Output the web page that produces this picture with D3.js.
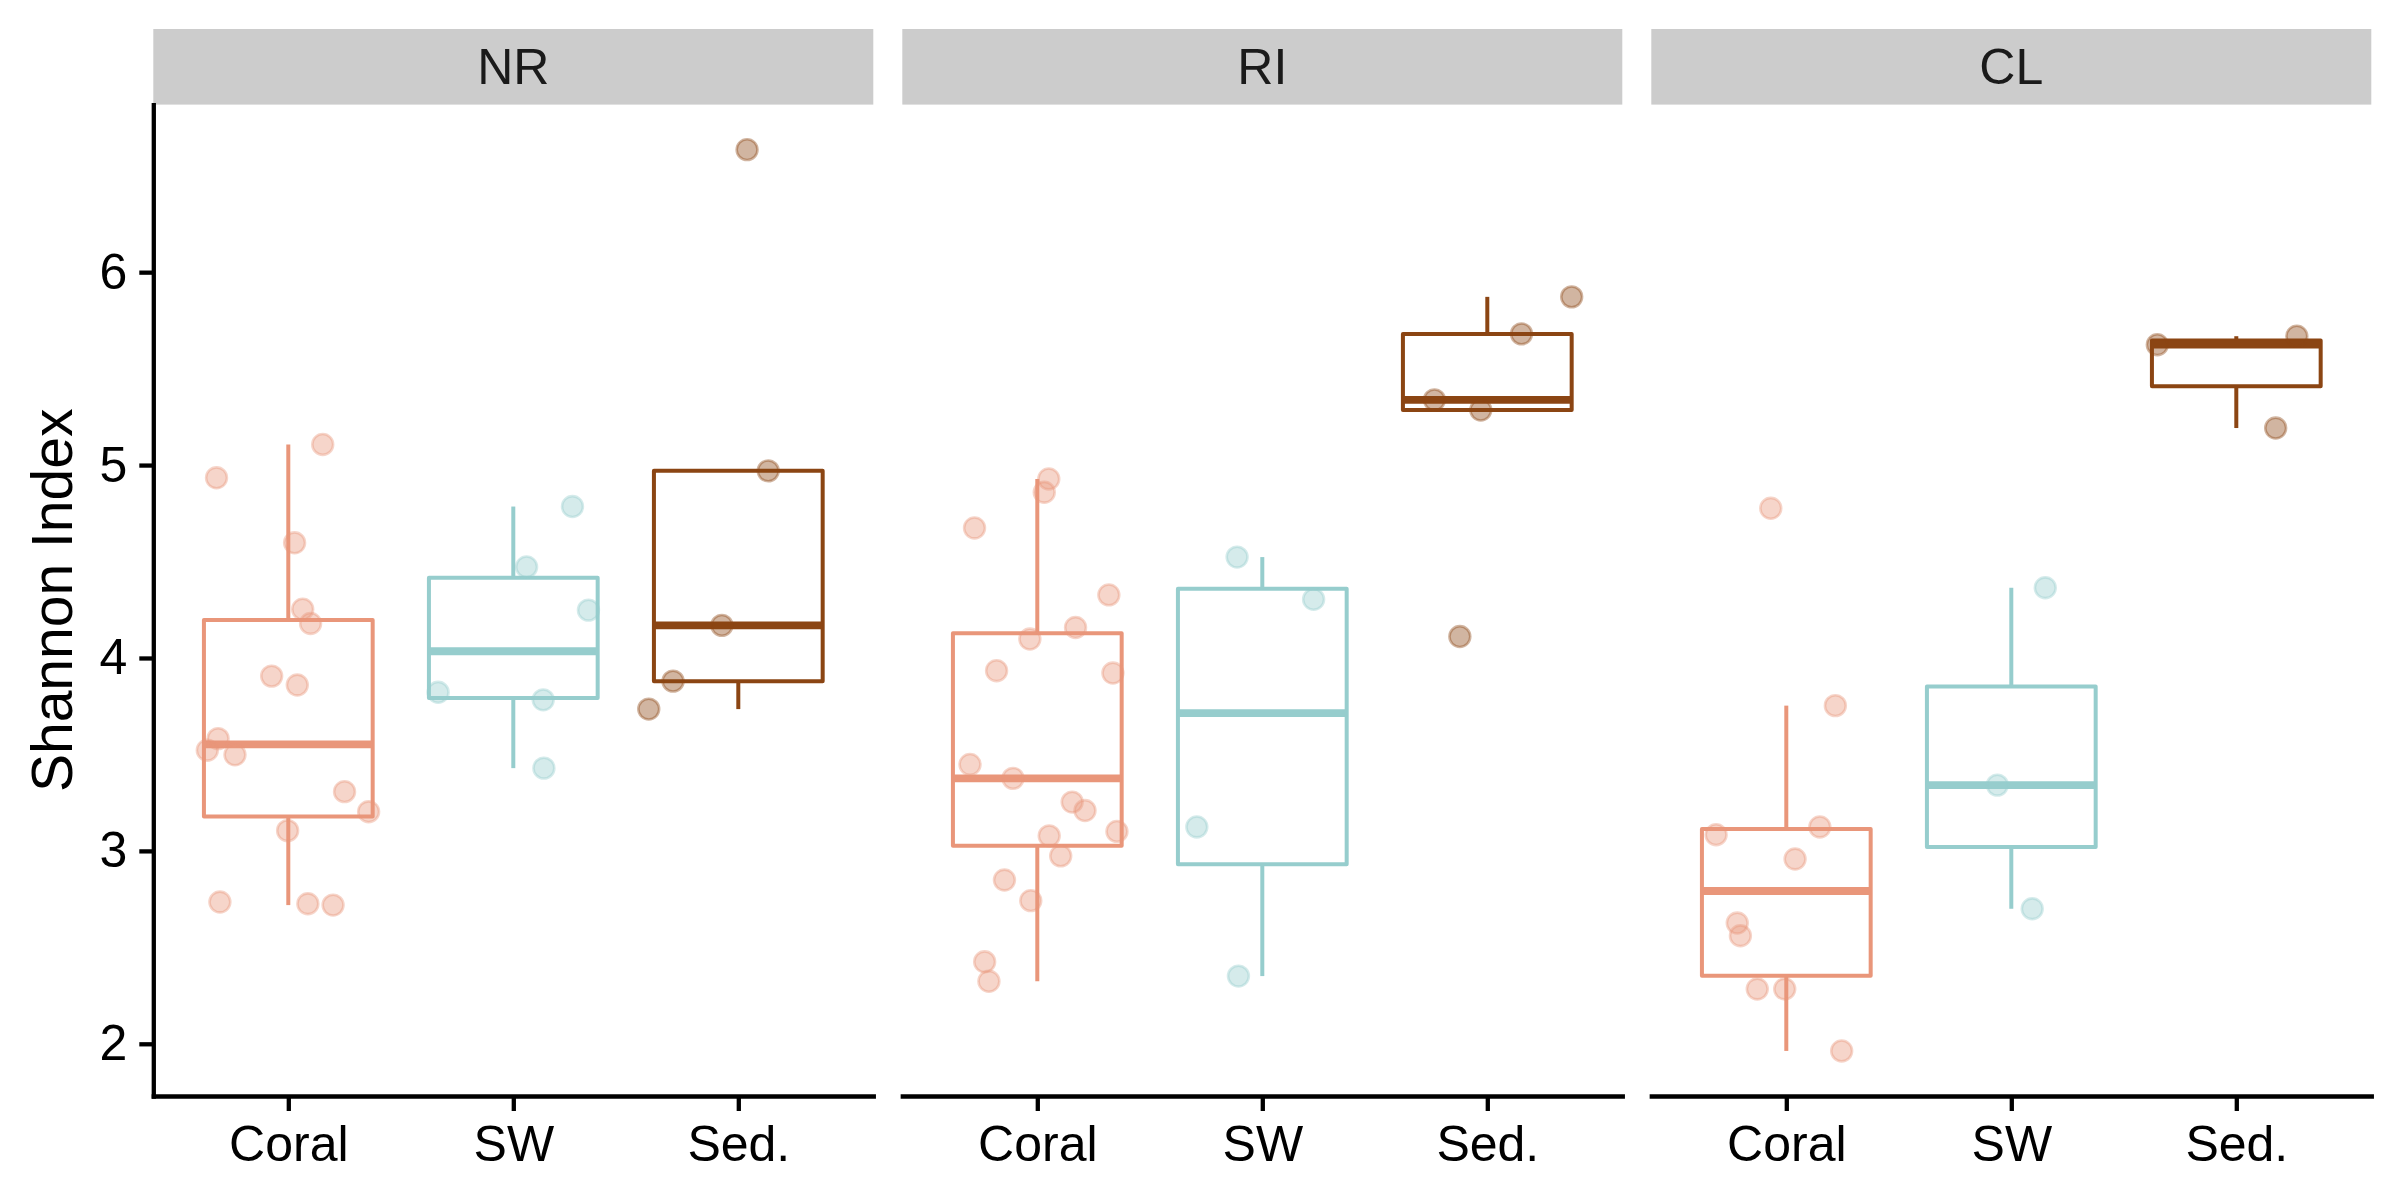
<!DOCTYPE html>
<html><head><meta charset="utf-8">
<script src="https://cdn.jsdelivr.net/npm/d3@7"></script>
<style>html,body{margin:0;padding:0;background:#fff;} svg{display:block;}</style>
</head><body>
<svg id="chart" width="2400" height="1200"></svg>
<script>
// ---------------- data ----------------
const sites = ["NR", "RI", "CL"];
const sampleTypes = ["Coral", "SW", "Sed."];
const yTicks = [2, 3, 4, 5, 6];
const yTitle = "Shannon Index";

// Shannon index per sample (site x sample type)
const nrCoral = [4.934, 5.107, 4.597, 4.253, 4.179, 3.906, 3.860, 3.582, 3.522, 3.498, 3.307, 3.203, 3.105, 2.735, 2.726, 2.719];
const nrSW    = [4.785, 4.472, 4.248, 3.822, 3.783, 3.429];
const nrSed   = [6.635, 4.970, 4.169, 3.880, 3.735];
const riCoral = [4.928, 4.859, 4.674, 4.327, 4.158, 4.098, 3.934, 3.922, 3.448, 3.376, 3.253, 3.209, 3.101, 3.078, 2.974, 2.849, 2.742, 2.425, 2.324];
const riSW    = [4.523, 4.304, 3.124, 2.351];
const riSed   = [5.872, 5.680, 5.338, 5.285, 4.111];
const clCoral = [4.776, 3.753, 3.124, 3.084, 2.958, 2.626, 2.560, 2.284, 2.284, 1.963];
const clSW    = [4.364, 3.341, 2.700];
const clSed   = [5.668, 5.624, 5.192];

// horizontal jitter of each point (fraction of category spacing)
const nrCoralJit = [-0.319, 0.153, 0.028, 0.064, 0.099, -0.074, 0.040, -0.312, -0.360, -0.237, 0.250, 0.357, -0.003, -0.304, 0.087, 0.199];
const nrSWJit    = [0.263, 0.059, 0.334, -0.334, 0.133, 0.136];
const nrSedJit   = [0.039, 0.133, -0.073, -0.290, -0.398];
const riCoralJit = [0.051, 0.031, -0.279, 0.318, 0.170, -0.033, -0.181, 0.336, -0.299, -0.108, 0.155, 0.212, 0.354, 0.053, 0.104, -0.146, -0.029, -0.234, -0.215];
const riSWJit    = [-0.112, 0.228, -0.291, -0.106];
const riSedJit   = [0.375, 0.152, -0.235, -0.029, -0.122];
const clCoralJit = [-0.069, 0.218, 0.149, -0.312, 0.039, -0.218, -0.204, -0.129, -0.007, 0.246];
const clSWJit    = [0.151, -0.062, 0.093];
const clSedJit   = [0.269, -0.351, 0.175];

const typeColors = ["#E9967A", "#96CDCD", "#8B4513"];

// ---------------- assemble ----------------
const siteValues = {
  NR: [nrCoral, nrSW, nrSed],
  RI: [riCoral, riSW, riSed],
  CL: [clCoral, clSW, clSed]
};
const siteJitter = {
  NR: [nrCoralJit, nrSWJit, nrSedJit],
  RI: [riCoralJit, riSWJit, riSedJit],
  CL: [clCoralJit, clSWJit, clSedJit]
};

// ---------------- layout ----------------
const W = 2400, H = 1200;
const marginLeft = 153.3, panelW = 720, panelGap = 29;
const stripTop = 29, stripH = 75.6;
const panelTop = stripTop + stripH, panelBottom = 1096;
const font = "'Liberation Sans', Arial, Helvetica, sans-serif";
const lineW = 4.3, boxLineW = 4.0, medianW = 7.8, ptR = 10.4, ptStroke = 2.6;

const svg = d3.select("#chart");
svg.append("rect").attr("width", W).attr("height", H).attr("fill", "#fff");

const allVals = sites.flatMap(s => siteValues[s].flat());
const [vmin, vmax] = d3.extent(allVals);
const pad = (vmax - vmin) * 0.05;
const y = d3.scaleLinear().domain([vmin - pad, vmax + pad]).range([panelBottom, panelTop]);

function boxStats(vals) {
  const s = vals.slice().sort(d3.ascending);
  const q1 = d3.quantileSorted(s, 0.25), med = d3.quantileSorted(s, 0.5), q3 = d3.quantileSorted(s, 0.75);
  const iqr = q3 - q1;
  const lo = d3.min(s.filter(v => v >= q1 - 1.5 * iqr));
  const hi = d3.max(s.filter(v => v <= q3 + 1.5 * iqr));
  return {q1, med, q3, lo, hi};
}

sites.forEach((site, si) => {
  const left = marginLeft + si * (panelW + panelGap);
  const g = svg.append("g").attr("transform", `translate(${left},0)`);
  const x = d3.scalePoint().domain(sampleTypes).range([0, panelW]).padding(0.6);
  const step = x.step();
  const halfBox = 0.375 * step;

  // strip
  g.append("rect").attr("x", 0).attr("y", stripTop).attr("width", panelW).attr("height", stripH)
    .attr("fill", "#CCCCCC");
  g.append("text").attr("x", panelW / 2).attr("y", stripTop + stripH / 2)
    .attr("text-anchor", "middle").attr("dominant-baseline", "central")
    .attr("font-family", font).attr("font-size", 50).attr("fill", "#1a1a1a").text(site);

  // boxplots
  sampleTypes.forEach((t, ti) => {
    const vals = siteValues[site][ti];
    const st = boxStats(vals);
    const cx = x(t);
    const col = typeColors[ti];
    const bg = g.append("g");
    bg.append("line").attr("x1", cx).attr("x2", cx).attr("y1", y(st.q3)).attr("y2", y(st.hi))
      .attr("stroke", col).attr("stroke-width", boxLineW);
    bg.append("line").attr("x1", cx).attr("x2", cx).attr("y1", y(st.q1)).attr("y2", y(st.lo))
      .attr("stroke", col).attr("stroke-width", boxLineW);
    bg.append("rect").attr("x", cx - halfBox).attr("y", y(st.q3))
      .attr("width", 2 * halfBox).attr("height", y(st.q1) - y(st.q3))
      .attr("fill", "#fff").attr("stroke", col).attr("stroke-width", boxLineW)
      .attr("stroke-linejoin", "round");
    bg.append("line").attr("x1", cx - halfBox).attr("x2", cx + halfBox)
      .attr("y1", y(st.med)).attr("y2", y(st.med))
      .attr("stroke", col).attr("stroke-width", medianW);
  });

  // jittered points
  sampleTypes.forEach((t, ti) => {
    const vals = siteValues[site][ti];
    const jit = siteJitter[site][ti];
    const col = typeColors[ti];
    g.append("g").selectAll("circle").data(vals).join("circle")
      .attr("cx", (d, i) => x(t) + jit[i] * step)
      .attr("cy", d => y(d))
      .attr("r", ptR)
      .attr("fill", col).attr("fill-opacity", 0.4)
      .attr("stroke", col).attr("stroke-opacity", 0.4).attr("stroke-width", ptStroke);
  });

  // x axis
  const xa = g.append("g").attr("transform", `translate(0,${panelBottom})`)
    .call(d3.axisBottom(x).tickSize(15).tickSizeOuter(0).tickPadding(14.5));
  xa.select(".domain").attr("stroke", "#000").attr("stroke-width", lineW).attr("stroke-linecap", "square");
  xa.selectAll(".tick line").attr("stroke", "#000").attr("stroke-width", lineW);
  xa.selectAll(".tick text").attr("font-family", font).attr("font-size", 50).attr("fill", "#000");

  // y axis (first panel only)
  if (si === 0) {
    const ya = g.append("g")
      .call(d3.axisLeft(y).tickValues(yTicks).tickFormat(d3.format("d")).tickSize(14).tickSizeOuter(0).tickPadding(12));
    ya.select(".domain").attr("stroke", "#000").attr("stroke-width", lineW).attr("stroke-linecap", "square");
    ya.selectAll(".tick line").attr("stroke", "#000").attr("stroke-width", lineW);
    ya.selectAll(".tick text").attr("font-family", font).attr("font-size", 50).attr("fill", "#000");
  }
});

// y title
svg.append("text")
  .attr("transform", `translate(71.5,${(panelTop + panelBottom) / 2}) rotate(-90)`)
  .attr("text-anchor", "middle")
  .attr("font-family", font).attr("font-size", 57).attr("fill", "#000")
  .text(yTitle);
</script>
</body></html>
